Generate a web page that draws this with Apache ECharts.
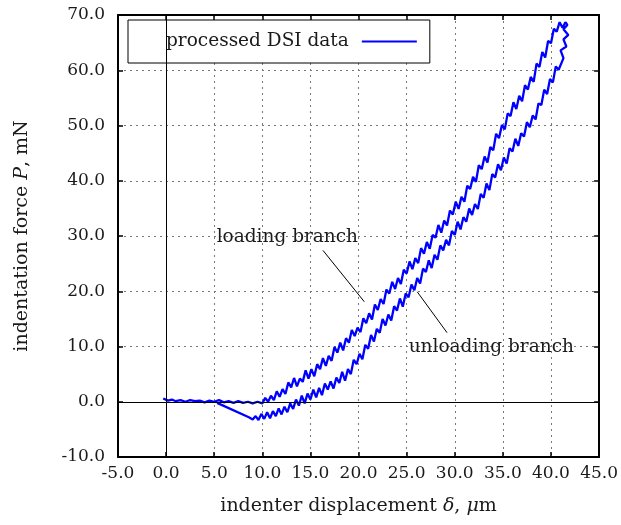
<!DOCTYPE html>
<html>
<head>
<meta charset="utf-8">
<script src="https://cdn.jsdelivr.net/npm/echarts@6/dist/echarts.min.js"></script>
<style>
  html, body { margin: 0; padding: 0; background: #fff; }
  #chart { width: 621px; height: 525px; }
</style>
</head>
<body>
<div id="chart"></div>
<script>
// loading branch (upper / left), noise included
var loading = [
  [-0.3,0.6],[0.2,0.2],[0.6,0.4],[1.0,0.1],[1.5,0.3],[2.0,0.0],[2.5,0.3],[3.0,0.1],[3.5,0.2],[4.0,-0.1],
  [4.5,0.2],[5.0,0.0],[5.5,0.3],[6.0,-0.1],[6.5,0.1],[7.0,-0.2],[7.5,0.1],[8.0,-0.2],[8.5,0.0],[9.0,-0.3],
  [9.5,0.0],[10.0,-0.3],
  [10.3,0.7],[10.6,0.0],[10.9,1.1],[11.2,0.3],[11.5,1.9],[11.8,0.9],[12.1,2.3],[12.4,1.4],[12.7,3.5],[13.0,2.6],
  [13.3,4.3],[13.6,2.8],[13.9,4.2],[14.2,3.6],[14.5,5.7],[14.8,4.2],[15.1,5.9],[15.4,4.6],[15.7,6.8],[16.0,5.9],
  [16.3,7.9],[16.6,6.5],[16.9,8.3],[17.2,7.4],[17.5,9.9],[17.8,8.9],[18.1,10.7],[18.4,9.3],[18.7,11.5],[19.0,10.7],
  [19.3,13.0],[19.6,11.9],[19.9,13.4],[20.2,12.6],[20.5,15.1],[20.8,14.2],[21.1,16.0],[21.4,14.9],[21.7,17.6],[22.0,16.6],
  [22.3,18.6],[22.6,17.7],[22.9,20.3],[23.2,19.6],[23.5,21.7],[23.8,20.4],[24.1,22.4],[24.4,21.3],[24.7,23.9],[25.0,23.2],
  [25.3,25.4],[25.6,24.0],[25.9,26.0],[26.2,25.1],[26.5,27.8],[26.8,26.8],[27.1,28.9],[27.4,27.7],[27.7,30.2],[28.0,29.7],
  [28.3,32.0],[28.6,30.6],[28.9,32.8],[29.2,31.9],[29.5,34.6],[29.8,33.9],[30.1,36.2],[30.4,34.9],[30.7,37.1],[31.0,36.2],
  [31.3,39.1],[31.6,38.5],[31.9,40.7],[32.2,39.8],[32.5,42.8],[32.8,42.1],[33.1,44.4],[33.4,43.3],[33.7,46.1],[34.0,45.5],
  [34.3,48.5],[34.6,47.7],[34.9,50.1],[35.2,49.3],[35.5,52.2],[35.8,51.7],[36.1,54.2],[36.4,53.0],[36.7,55.4],[37.0,54.4],
  [37.3,57.3],[37.6,56.5],[37.9,58.8],[38.2,57.9],[38.5,61.2],[38.8,60.6],[39.1,63.3],[39.4,62.3],[39.7,65.3],[40.0,64.9],
  [40.3,67.5],[40.6,67.0],[40.9,68.7],[41.2,67.7],[41.5,68.7]
];
// unloading branch (lower / right)
var unloading = [
  [41.7,68.2],[41.3,67.4],[41.8,66.4],[41.3,65.6],[41.6,64.3],[41.0,63.6],[41.3,62.2],[40.8,60.1],[40.5,60.7],[40.2,57.8],
  [39.9,58.4],[39.6,55.7],[39.3,56.5],[39.0,53.7],[38.7,54.0],[38.4,51.1],[38.1,51.8],[37.8,49.7],[37.5,50.6],[37.2,48.0],
  [36.9,48.6],[36.6,46.3],[36.3,47.6],[36.0,45.3],[35.7,45.9],[35.4,43.1],[35.1,44.2],[34.8,41.9],[34.5,43.0],[34.2,40.6],
  [33.9,41.2],[33.6,38.3],[33.3,39.5],[33.0,36.9],[32.7,37.6],[32.4,34.9],[32.1,35.8],[31.8,33.8],[31.5,35.0],[31.2,32.6],
  [30.9,33.4],[30.6,31.2],[30.3,32.6],[30.0,30.2],[29.7,30.9],[29.4,28.3],[29.1,29.3],[28.8,27.4],[28.5,28.3],[28.2,25.7],
  [27.9,26.6],[27.6,24.2],[27.3,25.6],[27.0,23.5],[26.7,24.1],[26.4,21.4],[26.1,22.4],[25.8,20.2],[25.5,21.2],[25.2,18.9],
  [24.9,19.6],[24.6,17.2],[24.3,18.7],[24.0,16.5],[23.7,17.3],[23.4,14.7],[23.1,15.8],[22.8,13.8],[22.5,15.0],[22.2,12.5],
  [21.9,13.2],[21.6,10.9],[21.3,12.1],[21.0,9.6],[20.7,10.3],[20.4,7.7],[20.1,8.7],[19.8,6.8],[19.5,7.6],[19.2,5.0],
  [18.9,5.9],[18.6,3.8],[18.3,5.4],[18.0,3.4],[17.7,4.4],[17.4,2.4],[17.1,3.7],[16.8,2.2],[16.5,3.3],[16.2,1.2],
  [15.9,2.5],[15.6,0.8],[15.3,2.2],[15.0,0.4],[14.7,1.5],[14.4,-0.3],[14.1,1.1],[13.8,-0.7],[13.5,0.4],[13.2,-1.3],
  [12.9,-0.3],[12.6,-1.9],[12.3,-0.9],[12.0,-2.3],[11.7,-1.2],[11.4,-2.6],[11.1,-1.7],[10.8,-3.0],[10.5,-1.9],[10.2,-3.1],
  [9.9,-2.2],[9.6,-3.3],[9.3,-2.6],[9.0,-3.2],[8.6,-2.8],[5.3,-0.2]
];

var legendName = 'processed DSI data';
var loadingLabel = 'loading branch';
var unloadingLabel = 'unloading branch';
// annotation anchors, in data units
var loadingText = [12.6, 29.8];
var loadingPointer = [[16.3, 27.4], [20.6, 18.1]];
var unloadingText = [33.8, 9.9];
var unloadingPointer = [[26.1, 19.9], [29.2, 12.5]];

var font = 'DejaVu Serif';
var ink = '#1a1a1a';
var fmt = function (v) { return v.toFixed(1); };

var myChart = echarts.init(document.getElementById('chart'));

function axisBase(extra) {
  var a = {
    axisLine: { show: true, onZero: false, lineStyle: { color: '#000', width: 2 } },
    axisTick: { show: true, inside: true, length: 5, lineStyle: { color: '#000', width: 1.5 } },
    splitLine: { show: false },
    axisLabel: { show: false }
  };
  return Object.assign(a, extra);
}

var nameStyle = {
  fontFamily: font, fontSize: 19, color: ink,
  rich: { i: { fontFamily: font, fontStyle: 'italic', fontSize: 19, color: ink } }
};
var gridLine = { show: true, lineStyle: { color: '#777', type: [2, 4], width: 1 } };

var option = {
  animation: false,
  grid: { left: 118, right: 19, top: 15, bottom: 68, show: false },
  legend: {
    data: [legendName],
    left: 128, top: 20,
    align: 'right',
    icon: 'rect',
    backgroundColor: '#fff',
    borderColor: '#000', borderWidth: 1, borderRadius: 0,
    padding: [12, 13, 12, 38],
    itemWidth: 55, itemHeight: 2,
    textStyle: { fontFamily: font, fontSize: 18.5, color: ink, padding: [0, 8, 0, 0] }
  },
  xAxis: [
    axisBase({
      type: 'value', min: -5, max: 45, interval: 5, position: 'bottom',
      name: 'indenter displacement {i|δ}, {i|μ}m',
      nameLocation: 'middle', nameGap: 40, nameTextStyle: nameStyle,
      axisLabel: { show: true, formatter: fmt, margin: 8, fontFamily: font, fontSize: 17, color: ink },
      splitLine: gridLine
    }),
    axisBase({ type: 'value', min: -5, max: 45, interval: 5, position: 'top' })
  ],
  yAxis: [
    axisBase({
      type: 'value', min: -10, max: 70, interval: 10, position: 'left',
      name: 'indentation force {i|P}, mN',
      nameLocation: 'middle', nameGap: 86, nameTextStyle: nameStyle,
      axisLabel: { show: true, formatter: fmt, margin: 13, fontFamily: font, fontSize: 17, color: ink },
      splitLine: gridLine
    }),
    axisBase({ type: 'value', min: -10, max: 70, interval: 10, position: 'right' })
  ],
  series: [
    {
      name: legendName,
      type: 'line',
      data: loading.concat(unloading),
      symbol: 'none',
      lineStyle: { color: '#0000ff', width: 2.3 },
      itemStyle: { color: '#0000ff' },
      z: 2
    },
    {
      // zero axes, annotation pointers and labels
      name: 'guides',
      type: 'line',
      data: [],
      z: 3,
      markLine: {
        silent: true,
        symbol: 'none',
        label: { show: false },
        lineStyle: { color: '#000', width: 1, type: 'solid' },
        data: [
          { xAxis: 0 },
          { yAxis: 0 },
          [{ coord: loadingPointer[0] }, { coord: loadingPointer[1] }],
          [{ coord: unloadingPointer[0] }, { coord: unloadingPointer[1] }]
        ]
      },
      markPoint: {
        silent: true,
        symbol: 'circle', symbolSize: 0,
        label: { show: true, position: 'inside', fontFamily: font, fontSize: 18.5, color: ink,
          formatter: function (p) { return p.name; } },
        data: [
          { name: loadingLabel, coord: loadingText },
          { name: unloadingLabel, coord: unloadingText }
        ]
      }
    }
  ]
};
myChart.setOption(option);
</script>
</body>
</html>
